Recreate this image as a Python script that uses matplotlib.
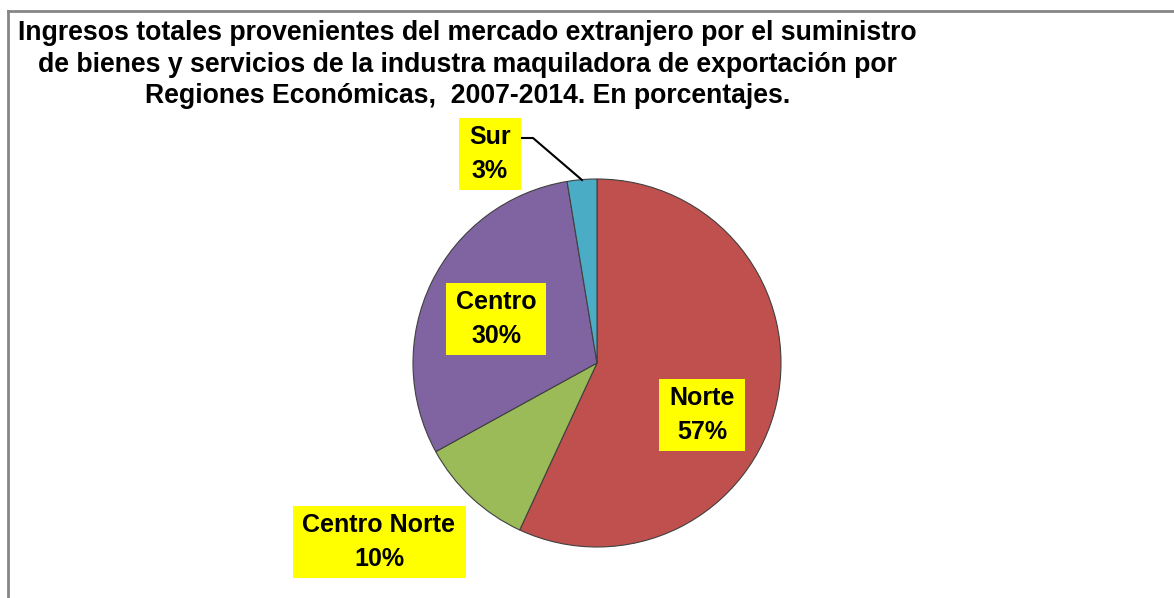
import matplotlib
matplotlib.use("Agg")
import matplotlib.pyplot as plt
from matplotlib.lines import Line2D

plt.rcParams['font.family'] = ['Liberation Sans', 'DejaVu Sans']

regions = ["Norte", "Centro Norte", "Centro", "Sur"]
shares = [56.9, 10.1, 30.4, 2.6]
colors = ["#C0504D", "#9BBB59", "#8064A2", "#4BACC6"]
title_lines = [
    "Ingresos totales provenientes del mercado extranjero por el suministro",
    "de bienes y servicios de la industra maquiladora de exportación por",
    "Regiones Económicas,  2007-2014. En porcentajes.",
]

W, H = 1174, 598
fig = plt.figure(figsize=(W / 100, H / 100), dpi=100)
ax = fig.add_axes([0, 0, 1, 1])

cx, cy, r = 597, H - 363, 184
ax.pie(shares, colors=colors, startangle=90, counterclock=False,
       center=(cx, cy), radius=r,
       wedgeprops=dict(edgecolor="#404040", linewidth=0.8))
ax.set_xlim(0, W)
ax.set_ylim(0, H)
ax.set_aspect('equal')
ax.axis('off')

label_pos = {
    "Norte": (702, 415),
    "Centro Norte": (379, 542),
    "Centro": (496, 319),
    "Sur": (490, 154),
}
for name, v in zip(regions, shares):
    x, y = label_pos[name]
    ax.text(x, H - y, f"{name}\n{v:.0f}%", ha="center", va="center",
            fontsize=18, fontweight="bold", linespacing=1.5,
            bbox=dict(boxstyle="square,pad=0.4", facecolor="#FFFF00", edgecolor="none",
                      mutation_aspect=0.7))

# leader line for Sur
ax.plot([521, 533, 582], [H - 138, H - 138, H - 180], color="black", lw=1.5)

# title
title_y = [40, 71.5, 103]
for t, y in zip(title_lines, title_y):
    ax.text(467.5, H - y, t, ha="center", va="baseline", fontsize=19.2, fontweight="bold")

# border
fig.add_artist(Line2D([7.5 / W, 1], [1 - 10.5 / H, 1 - 10.5 / H], transform=fig.transFigure,
                      color="#868686", lw=2))
fig.add_artist(Line2D([7.5 / W, 7.5 / W], [0, 1 - 10.5 / H], transform=fig.transFigure,
                      color="#868686", lw=2))

fig.savefig("out.png", dpi=100)
